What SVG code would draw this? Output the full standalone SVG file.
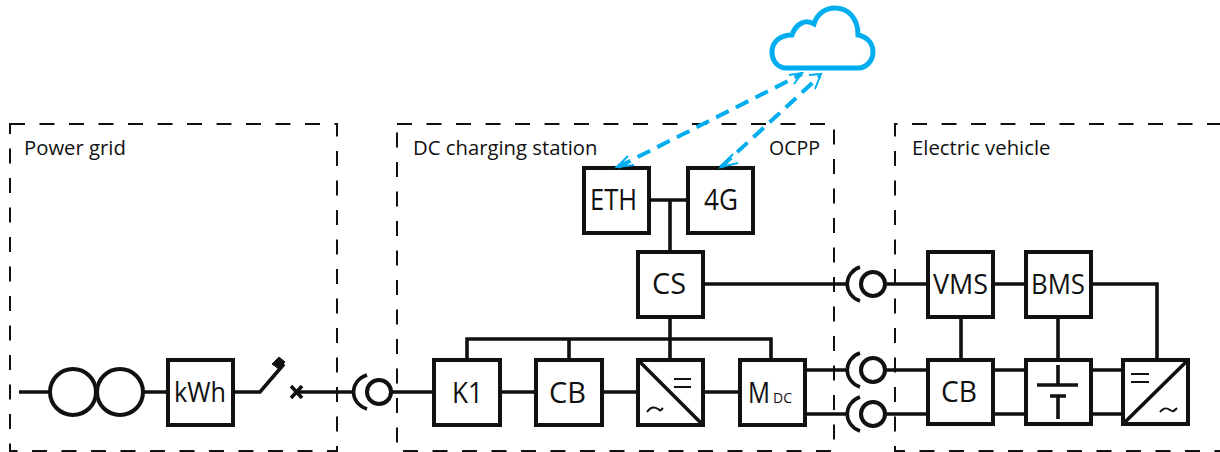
<svg xmlns="http://www.w3.org/2000/svg" width="1220" height="452" viewBox="0 0 1220 452">
<style>
.b{fill:#fff;stroke:#111;stroke-width:4}
.l{fill:none;stroke:#111;stroke-width:3.6}
.n{fill:none;stroke:#111;stroke-width:2}
.d{fill:none;stroke:#111;stroke-width:2;stroke-dasharray:15 14.5}
.c{fill:none;stroke:#00aeef;stroke-width:4;stroke-dasharray:14 8}
.h{fill:none;stroke:#00aeef;stroke-width:2}
text{font-family:"Open Sans","Liberation Sans",sans-serif;fill:#111}
.t{font-size:30px}
.m{font-size:27px}
.s{font-size:20.300px}
</style>
<g id="zone-grid"><rect class="d" x="10" y="124" width="327" height="327"/><text class="s" x="24" y="155">Power grid</text></g>
<g id="zone-station"><rect class="d" x="397" y="124" width="437" height="327"/><text class="s" x="413" y="155">DC charging station</text><text class="s" x="769" y="155" textLength="51" lengthAdjust="spacingAndGlyphs">OCPP</text></g>
<g id="zone-ev"><path class="d" d="M1222 124H895V451H1222"/><text class="s" x="912" y="155">Electric vehicle</text></g>
<g id="cloud"><path d="M786 68H858C867 68 873 60 873 52C873 43 867 37 858 35C858 18 848 8 835 8C825 8 817 14 814 24C806 19 796 23 792 35C781 35 772 41 772 52C772 61 778 68 786 68Z" fill="#fff" stroke="#00aeef" stroke-width="5"/></g>
<g id="transformer"><circle class="b" cx="73" cy="392" r="23"/><circle class="b" cx="120" cy="392" r="23"/></g>
<g id="kwh"><rect class="b" x="168" y="360" width="65" height="65"/><text class="m" x="174" y="402" textLength="52" lengthAdjust="spacingAndGlyphs">kWh</text></g>
<g id="switch"><path d="M272 364L279 357L285 362L279 369Z" fill="#111" stroke="#111"/><path class="l" d="M291 386L302 398M302 386L291 398"/></g>
<g id="plug-grid"><path class="l" d="M367 375C349 381 349 403 367 409"/><circle class="b" cx="379" cy="392" r="12"/></g>
<g id="k1"><rect class="b" x="434" y="360" width="66" height="65"/><text class="t" x="452" y="403" textLength="31" lengthAdjust="spacingAndGlyphs">K1</text></g>
<g id="cb1"><rect class="b" x="536" y="360" width="66" height="65"/><text class="t" x="549" y="403" textLength="37" lengthAdjust="spacingAndGlyphs">CB</text></g>
<g id="conv1"><rect class="b" x="638" y="360" width="65" height="65"/><path class="l" d="M638 360L703 425"/><path class="n" d="M674 379H691M674 387H691M647 412C651 406 655 407 658 409C661 411 660 411 663 408"/></g>
<g id="mdc"><rect class="b" x="740" y="360" width="65" height="65"/><text class="t" x="748" y="403" textLength="22" lengthAdjust="spacingAndGlyphs">M</text><text x="773" y="403" font-size="15" textLength="19" lengthAdjust="spacingAndGlyphs">DC</text></g>
<g id="eth"><rect class="b" x="584" y="168" width="65" height="65"/><text class="t" x="590" y="210" textLength="47" lengthAdjust="spacingAndGlyphs">ETH</text></g>
<g id="g4"><rect class="b" x="688" y="168" width="65" height="65"/><text class="t" x="704" y="210" textLength="34" lengthAdjust="spacingAndGlyphs">4G</text></g>
<g id="cs"><rect class="b" x="638" y="252" width="65" height="65"/><text class="t" x="652" y="294" textLength="34" lengthAdjust="spacingAndGlyphs">CS</text></g>
<g id="plug-cs"><path class="l" d="M860 267C843 273 843 295 860 301"/><circle class="b" cx="873" cy="284" r="12"/></g>
<g id="plug-p"><path class="l" d="M860 353C843 359 843 381 860 387"/><circle class="b" cx="873" cy="370" r="12"/></g>
<g id="plug-n"><path class="l" d="M860 397C843 403 843 425 860 431"/><circle class="b" cx="873" cy="414" r="12"/></g>
<g id="vms"><rect class="b" x="928" y="252" width="65" height="65"/><text class="m" x="933" y="294" textLength="55" lengthAdjust="spacingAndGlyphs">VMS</text></g>
<g id="bms"><rect class="b" x="1026" y="252" width="65" height="65"/><text class="m" x="1031" y="294" textLength="54" lengthAdjust="spacingAndGlyphs">BMS</text></g>
<g id="cb2"><rect class="b" x="928" y="360" width="65" height="64"/><text class="t" x="941" y="402" textLength="36" lengthAdjust="spacingAndGlyphs">CB</text></g>
<g id="battery"><rect class="b" x="1026" y="360" width="65" height="64"/><path class="l" d="M1058 365V385M1037 385H1078M1050 396H1066M1058 396V419"/></g>
<g id="conv2"><rect class="b" x="1123" y="360" width="65" height="64"/><path class="l" d="M1188 360L1123 424"/><path class="n" d="M1131 374H1149M1131 382H1149M1160 412C1164 407 1167 408 1170 410C1173 412 1173 412 1177 408"/></g>
<g id="connectors">
<path class="l" d="M19 392H50M144 392H168M233 392H260L284 364M296 392H352M392 392H433M500 392H535M602 392H637M703 392H739M805 370H846M805 414H846M886 370H928M886 414H928M994 370H1025M994 414H1025M1091 370H1122M1091 414H1122"/>
<path class="l" d="M670 200V252M649 200H687M670 317V359M703 284H846M886 284H928M994 284H1025M1091 284H1157V359M961 317V359M1058 317V359M467 359V339H771V359M569 339V359"/>
<path class="c" d="M618 167L802 74M721 167L820 76"/>
<path class="h" d="M628 156L617 167L634 165M733 154L721 167L738 163M789 75L802 73L794 84M809 75L821 74L815 89"/>
</g>
</svg>
